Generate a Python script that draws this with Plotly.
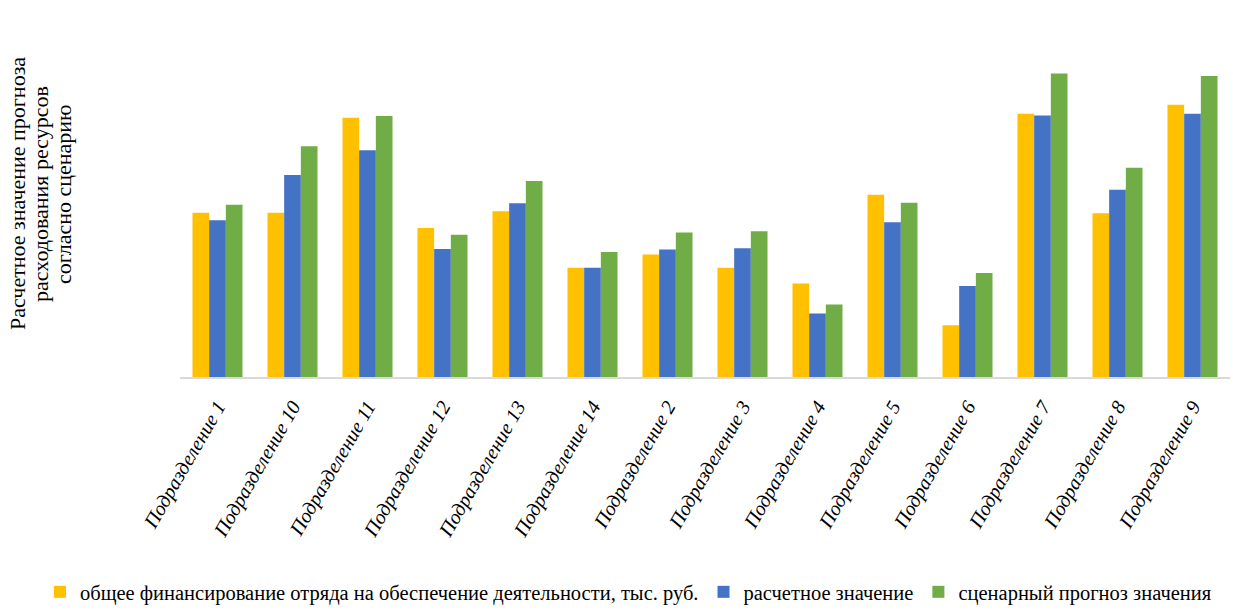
import plotly.graph_objects as go

categories = ["Подразделение 1", "Подразделение 10", "Подразделение 11", "Подразделение 12",
              "Подразделение 13", "Подразделение 14", "Подразделение 2", "Подразделение 3",
              "Подразделение 4", "Подразделение 5", "Подразделение 6", "Подразделение 7",
              "Подразделение 8", "Подразделение 9"]

funding = [164.3, 164.3, 259.3, 149.0, 165.7, 109.3, 122.4, 109.3, 93.6, 182.2, 51.8, 263.2, 163.8, 272.2]
estimated = [156.7, 202.0, 226.7, 128.0, 173.7, 109.3, 127.4, 128.7, 63.5, 154.8, 91.0, 261.5, 187.2, 263.2]
scenario = [172.3, 230.7, 261.0, 142.3, 196.0, 125.0, 144.4, 145.8, 72.5, 174.2, 104.0, 303.6, 209.3, 301.0]

series_names = ["общее финансирование отряда на обеспечение деятельности, тыс. руб.",
                "расчетное значение",
                "сценарный прогноз значения"]
colors = ["#FFC000", "#4472C4", "#70AD47"]

title_lines = ["Расчетное значение прогноза", "расходования ресурсов", "согласно сценарию"]

fig = go.Figure()
for name, vals, col in zip(series_names, [funding, estimated, scenario], colors):
    fig.add_trace(go.Bar(x=categories, y=vals, name=name, marker_color=col,
                         marker_line_width=0))

serif = "Liberation Serif"

W, H = 1233, 610
L, R, T, B = 180, 3, 40, 233
pw, ph = W - L - R, H - T - B

fig.update_layout(
    width=W, height=H,
    margin=dict(l=L, r=R, t=T, b=B, autoexpand=False),
    paper_bgcolor="white", plot_bgcolor="white",
    barmode="group", bargap=0.333, bargroupgap=0,
    font=dict(family=serif, color="#000000"),
    showlegend=True,
    legend=dict(orientation="h", xref="paper", yref="paper",
                x=(40 - L) / pw, y=(H - B - 592) / ph, xanchor="left", yanchor="middle",
                font=dict(family=serif, size=20.5, color="#000000"),
                itemwidth=30, tracegroupgap=0),
    xaxis=dict(showline=True, linecolor="#D9D9D9", linewidth=2,
               ticks="outside", ticklen=8, tickcolor="rgba(0,0,0,0)",
               tickangle=-60, tickfont=dict(family=serif, size=20, style="italic", color="#000000"),
               showgrid=False, zeroline=False),
    yaxis=dict(visible=False, range=[0, 337], showgrid=False, zeroline=False),
)

xs = [17, 40, 63]
for line, xp in zip(title_lines, xs):
    fig.add_annotation(text=line, xref="paper", yref="paper",
                       x=(xp - L) / pw, y=(H - B - 194) / ph,
                       xanchor="center", yanchor="middle",
                       showarrow=False, textangle=-90,
                       font=dict(family=serif, size=22, color="#000000"))

fig.write_html("out.html")
